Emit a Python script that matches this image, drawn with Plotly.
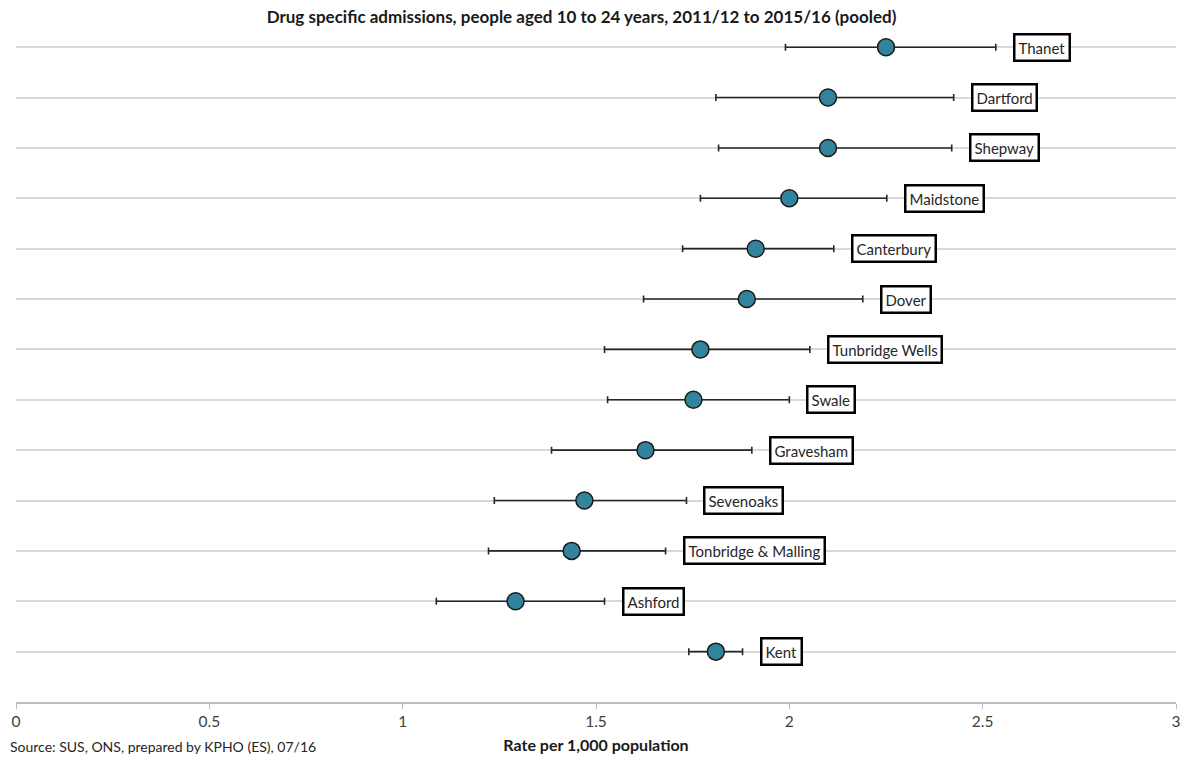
import plotly.graph_objects as go

# Areas listed top to bottom
areas = ["Thanet", "Dartford", "Shepway", "Maidstone", "Canterbury", "Dover",
         "Tunbridge Wells", "Swale", "Gravesham", "Sevenoaks",
         "Tonbridge & Malling", "Ashford", "Kent"]
rate = [2.25, 2.10, 2.10, 2.00, 1.913, 1.89, 1.77, 1.752, 1.628, 1.47, 1.437, 1.292, 1.81]
lower_ci = [1.99, 1.81, 1.817, 1.77, 1.724, 1.623, 1.522, 1.53, 1.385, 1.237, 1.222, 1.087, 1.74]
upper_ci = [2.534, 2.425, 2.42, 2.252, 2.115, 2.19, 2.053, 2.00, 1.903, 1.734, 1.68, 1.522, 1.879]

FONT = "Lato"
n = len(areas)
ypos = [n - i for i in range(n)]

fig = go.Figure()
fig.add_trace(go.Scatter(
    x=rate, y=ypos, mode="markers",
    marker=dict(size=17, color="#31849B", line=dict(color="#1a1a1a", width=1.5)),
    error_x=dict(type="data", symmetric=False,
                 array=[u - r for u, r in zip(upper_ci, rate)],
                 arrayminus=[r - l for r, l in zip(rate, lower_ci)],
                 color="#262626", thickness=1.6, width=3.5),
    showlegend=False, hoverinfo="skip",
))

for name, y, u in zip(areas, ypos, upper_ci):
    fig.add_annotation(x=u, y=y, text=name, showarrow=False, xanchor="left",
                       xshift=17, font=dict(family=FONT, size=15, color="#262626"),
                       bgcolor="white", bordercolor="black", borderwidth=2.5,
                       borderpad=3)

fig.add_annotation(x=0, xref="paper", y=-0.065, yref="paper", xanchor="left",
                   yanchor="middle", xshift=-8, showarrow=False,
                   text="Source: SUS, ONS, prepared by KPHO (ES), 07/16",
                   font=dict(family=FONT, size=14, color="#262626"))

fig.update_layout(
    width=1184, height=758,
    margin=dict(l=16, r=8, t=22, b=56),
    paper_bgcolor="white", plot_bgcolor="white",
    title=dict(text="<b>Drug specific admissions, people aged 10 to 24 years, 2011/12 to 2015/16 (pooled)</b>",
               x=0.4875, xref="paper", xanchor="center", y=0.977, yanchor="middle",
               font=dict(family=FONT, size=17, color="#1a1a1a")),
    xaxis=dict(range=[0, 3], dtick=0.5, tick0=0, showgrid=False, zeroline=False,
               showline=True, linecolor="#BFBFBF", linewidth=1.5, automargin=False,
               ticks="outside", ticklen=5, tickcolor="#BFBFBF", tickwidth=1,
               tickfont=dict(family=FONT, size=15.5, color="#404040"),
               title=dict(text="<b>Rate per 1,000 population</b>", standoff=10,
                          font=dict(family=FONT, size=16, color="#1a1a1a"))),
    yaxis=dict(range=[0, n + 0.5], tick0=0, dtick=1, showticklabels=False,
               showgrid=True, gridcolor="#D9D9D9", gridwidth=1.5,
               zeroline=False, showline=False, fixedrange=True),
)

fig.write_html("out.html")
